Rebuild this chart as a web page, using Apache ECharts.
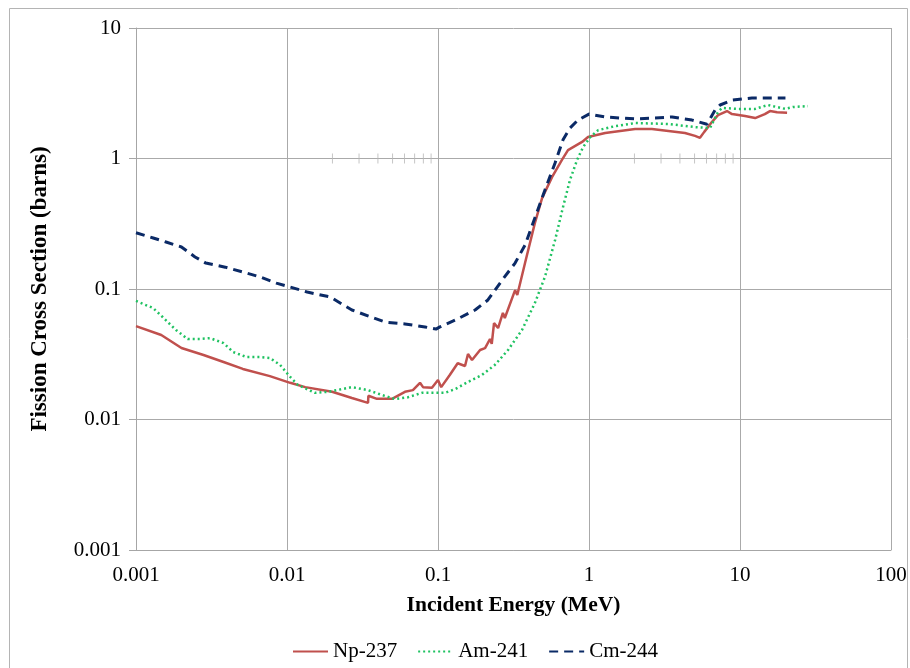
<!DOCTYPE html>
<html>
<head>
<meta charset="utf-8">
<script src="https://cdn.jsdelivr.net/npm/echarts@6/dist/echarts.min.js"></script>
<style>
html,body{margin:0;padding:0;background:#fff;}
#chart{width:910px;height:668px;}
</style>
</head>
<body>
<div id="chart"></div>
<script>
var seriesNames = ['Np-237', 'Am-241', 'Cm-244'];

var np237 = [[0.001,0.052],[0.00147,0.0444],[0.002,0.0353],[0.0028,0.0312],[0.0038,0.0276],[0.0051,0.0244],[0.0077,0.0215],[0.0105,0.0191],[0.0132,0.0177],[0.0199,0.0163],[0.0269,0.0146],[0.0344,0.0134],[0.0346,0.0152],[0.0394,0.0144],[0.0496,0.0144],[0.0604,0.0163],[0.0682,0.0168],[0.076,0.0191],[0.0796,0.0177],[0.0912,0.0175],[0.1,0.0201],[0.105,0.0177],[0.12,0.022],[0.135,0.027],[0.151,0.0257],[0.158,0.0318],[0.168,0.0286],[0.19,0.0341],[0.205,0.0352],[0.221,0.0414],[0.227,0.038],[0.235,0.0548],[0.25,0.0502],[0.269,0.0655],[0.277,0.06],[0.324,0.098],[0.335,0.09],[0.377,0.158],[0.438,0.32],[0.489,0.497],[0.569,0.72],[0.662,0.975],[0.726,1.16],[0.9,1.34],[0.985,1.46],[1.28,1.57],[2.02,1.68],[2.61,1.68],[4.32,1.57],[5.04,1.49],[5.43,1.44],[5.8,1.6],[6.53,1.91],[7.15,2.15],[8.2,2.31],[8.85,2.19],[10.8,2.12],[12.6,2.04],[14.6,2.19],[15.8,2.31],[17.6,2.26],[20.5,2.24]];

var am241 = [[0.001,0.081],[0.0013,0.0714],[0.0015,0.061],[0.00184,0.0485],[0.0022,0.0414],[0.00265,0.0414],[0.0031,0.042],[0.0038,0.0385],[0.0044,0.0329],[0.0054,0.0301],[0.0066,0.0301],[0.0077,0.0296],[0.009,0.0262],[0.0105,0.0212],[0.0118,0.0184],[0.0153,0.016],[0.0187,0.0163],[0.0269,0.0177],[0.0344,0.0168],[0.0426,0.0154],[0.0519,0.01435],[0.0632,0.0148],[0.0783,0.016],[0.096,0.016],[0.111,0.016],[0.13,0.0171],[0.158,0.0194],[0.195,0.0219],[0.238,0.0262],[0.291,0.0341],[0.36,0.0485],[0.438,0.078],[0.511,0.124],[0.596,0.237],[0.673,0.425],[0.748,0.684],[0.834,0.975],[0.913,1.22],[1.02,1.46],[1.15,1.65],[1.49,1.77],[2.02,1.87],[3.34,1.84],[5.04,1.74],[6.33,1.71],[7.15,2.27],[7.6,2.44],[9.7,2.4],[12.6,2.4],[15.3,2.57],[19.9,2.4],[22.4,2.48],[28.2,2.52]];

var cm244 = [[0.001,0.27],[0.0013,0.246],[0.00158,0.229],[0.002,0.21],[0.00246,0.176],[0.0029,0.158],[0.0039,0.147],[0.0051,0.135],[0.0066,0.124],[0.0085,0.111],[0.0105,0.1035],[0.0136,0.0948],[0.0193,0.0869],[0.0269,0.069],[0.0446,0.0558],[0.0604,0.054],[0.082,0.0512],[0.097,0.0493],[0.103,0.0512],[0.13,0.0578],[0.176,0.069],[0.214,0.0824],[0.266,0.117],[0.324,0.158],[0.377,0.217],[0.438,0.35],[0.511,0.574],[0.596,0.925],[0.673,1.39],[0.748,1.71],[0.845,1.97],[1.0,2.19],[1.28,2.08],[2.02,2.01],[2.61,2.04],[3.55,2.08],[4.81,1.97],[6.04,1.83],[6.83,2.35],[7.38,2.57],[8.85,2.8],[12.0,2.91],[20.0,2.91]];

// stray minor tick marks drawn across the y = 1 gridline
var minorTickX = [0.02,0.03,0.04,0.05,0.06,0.07,0.08,0.09,2,3,4,5,6,7,8,9];
var minorTickY = 1;

var FONT = '"Liberation Serif", "Times New Roman", serif';

function fmt(v) { return String(Number(v.toPrecision(1))); }

var chart = echarts.init(document.getElementById('chart'), null, {renderer: 'canvas'});

chart.setOption({
  backgroundColor: '#ffffff',
  animation: false,
  graphic: [{
    type: 'rect',
    shape: {x: 9.5, y: 8.5, width: 898, height: 680},
    style: {fill: 'none', stroke: '#b4b4b4', lineWidth: 1},
    silent: true,
    z: -1
  }],
  grid: {left: 136, right: 19, top: 28, bottom: 118, containLabel: false},
  legend: {
    data: seriesNames,
    top: 636,
    left: 287,
    itemWidth: 35,
    itemHeight: 14,
    itemGap: 20,
    itemStyle: {color: 'rgba(0,0,0,0)', borderWidth: 0, opacity: 0},
    textStyle: {fontFamily: FONT, fontSize: 21, color: '#000'}
  },
  xAxis: {
    type: 'log',
    logBase: 10,
    min: 0.001,
    max: 100,
    interval: 1,
    name: 'Incident Energy (MeV)',
    nameLocation: 'middle',
    nameGap: 44,
    nameTextStyle: {fontFamily: FONT, fontSize: 21.5, fontWeight: 'bold', color: '#000'},
    axisLine: {show: true, lineStyle: {color: '#a6a6a6', width: 1}},
    axisTick: {show: false},
    axisLabel: {fontFamily: FONT, fontSize: 21, color: '#000', margin: 15, formatter: fmt},
    splitLine: {show: true, lineStyle: {color: '#aaaaaa', width: 1}},
    minorTick: {show: false},
    minorSplitLine: {show: false}
  },
  yAxis: {
    type: 'log',
    logBase: 10,
    min: 0.001,
    max: 10,
    interval: 1,
    name: 'Fission Cross Section (barns)',
    nameLocation: 'middle',
    nameGap: 84,
    nameRotate: 90,
    nameTextStyle: {fontFamily: FONT, fontSize: 23, fontWeight: 'bold', color: '#000'},
    axisLine: {show: true, lineStyle: {color: '#a6a6a6', width: 1}},
    axisTick: {show: true, inside: false, length: 7, lineStyle: {color: '#a6a6a6'}},
    axisLabel: {fontFamily: FONT, fontSize: 21, color: '#000', margin: 15, formatter: fmt},
    splitLine: {show: true, lineStyle: {color: '#aaaaaa', width: 1}}
  },
  series: [
    {
      name: 'minor', type: 'scatter', silent: true, z: 1,
      symbol: 'rect', symbolSize: [1, 10],
      itemStyle: {color: '#b8b8b8'},
      data: minorTickX.map(function (x) { return [x, minorTickY]; })
    },
    {
      name: 'Np-237', type: 'line', showSymbol: false, symbol: 'none', z: 3,
      lineStyle: {color: '#C0504D', width: 2.5, type: 'solid'},
      itemStyle: {color: '#C0504D'},
      data: np237
    },
    {
      name: 'Am-241', type: 'line', showSymbol: false, symbol: 'none', z: 4,
      lineStyle: {color: '#1FC261', width: 2.5, type: [2, 3], cap: 'butt'},
      itemStyle: {color: '#1FC261'},
      data: am241
    },
    {
      name: 'Cm-244', type: 'line', showSymbol: false, symbol: 'none', z: 5,
      lineStyle: {color: '#0B2A66', width: 3, type: [9, 6]},
      itemStyle: {color: '#0B2A66'},
      data: cm244
    }
  ]
});
</script>
</body>
</html>
